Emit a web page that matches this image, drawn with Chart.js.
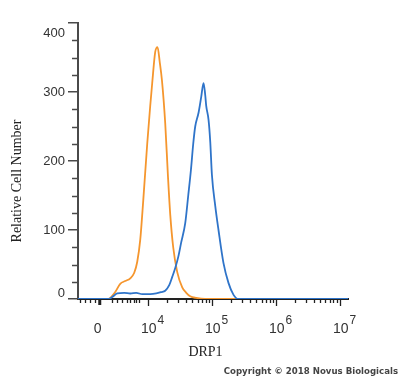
<!DOCTYPE html>
<html>
<head>
<meta charset="utf-8">
<script src="https://cdn.jsdelivr.net/npm/chart.js@4.4.1/dist/chart.umd.min.js"></script>
<style>
  html, body { margin: 0; padding: 0; background: #fff; }
</style>
</head>
<body>
<canvas id="myChart" width="400" height="378"></canvas>
<script>
// positions are on the display scale, in decades (4 = 10^4, 5 = 10^5 ...)
const bluePos = [2.91, 3.383, 3.445, 3.523, 3.633, 3.727, 3.820, 3.914, 4.039, 4.133, 4.211, 4.273,
  4.336, 4.383, 4.430, 4.477, 4.523, 4.586, 4.633, 4.675, 4.711, 4.742, 4.794, 4.836, 4.872,
  4.898, 4.914, 4.950, 4.977, 5.003, 5.055, 5.106, 5.184, 5.263, 5.341, 5.414, 7.13];
const blueCount = [0, 0, 3, 8, 9, 8, 9, 7, 7, 8, 10, 12,
  20, 32, 45, 61, 82, 110, 150, 187, 225, 250, 270, 293, 313,
  296, 280, 260, 228, 180, 135, 100, 52, 23, 6, 0, 0];

const orangePos = [2.91, 3.383, 3.430, 3.492, 3.570, 3.648, 3.727, 3.789, 3.836, 3.883, 3.930,
  3.992, 4.039, 4.070, 4.117, 4.153, 4.188, 4.222, 4.273, 4.316, 4.352, 4.398, 4.461, 4.539,
  4.602, 4.664, 4.758, 4.898, 7.13];
const orangeCount = [0, 0, 3, 10, 22, 26, 30, 38, 54, 86, 143,
  225, 280, 313, 358, 365, 343, 317, 255, 178, 122, 75, 39, 17,
  9, 4, 1.5, 0, 0];

const zeroPos = 3.25;
const decadeTicks = [4, 5, 6, 7];
const yTickLabels = [0, 100, 200, 300, 400];

const axisColor = "#4a4a4a";
const textColor = "#333";

function toPoints(xs, ys) {
  return xs.map((x, i) => ({ x: x, y: ys[i] }));
}

// minor ticks on the x axis: a few linear ones round zero, log ones after
function xMinorTicks() {
  let out = [2.94, 3.02, 3.10, 3.18, 3.44, 3.52, 3.60, 3.67, 3.73, 3.78, 3.82, 3.86];
  for (let d = 4; d <= 6; d++) {
    for (let k = 2; k <= 9; k++) out.push(d + Math.log10(k));
  }
  return out;
}

const axisDecor = {
  id: "axisDecor",
  afterDraw(chart) {
    const ctx = chart.ctx;
    const xs = chart.scales.x;
    const ys = chart.scales.y;
    const left = chart.chartArea.left;
    const bottom = chart.chartArea.bottom;
    ctx.save();

    // y minor ticks
    ctx.strokeStyle = axisColor;
    ctx.lineWidth = 1.5;
    for (let v = 25; v < 400; v += 25) {
      if (v % 100 === 0) continue;
      const y = Math.round(ys.getPixelForValue(v)) + 0.5;
      ctx.beginPath();
      ctx.moveTo(left - 6, y);
      ctx.lineTo(left, y);
      ctx.stroke();
    }

    // y labels
    ctx.fillStyle = textColor;
    ctx.font = "13px 'Liberation Sans', Arial, sans-serif";
    ctx.textAlign = "right";
    ctx.textBaseline = "middle";
    yTickLabels.forEach(v => {
      let y = ys.getPixelForValue(v);
      y = Math.min(Math.max(y, 33), 293);
      ctx.fillText(String(v), left - 13, y);
    });

    // x ticks
    ctx.strokeStyle = "#222";
    ctx.lineWidth = 1.3;
    xMinorTicks().forEach(t => {
      const x = Math.round(xs.getPixelForValue(t)) + 0.5;
      ctx.beginPath();
      ctx.moveTo(x, bottom);
      ctx.lineTo(x, bottom + 4);
      ctx.stroke();
    });
    decadeTicks.forEach(t => {
      const x = Math.round(xs.getPixelForValue(t)) + 0.5;
      ctx.beginPath();
      ctx.moveTo(x, bottom);
      ctx.lineTo(x, bottom + 7);
      ctx.stroke();
    });
    ctx.lineWidth = 3;
    const xz = xs.getPixelForValue(zeroPos);
    ctx.beginPath();
    ctx.moveTo(xz, bottom);
    ctx.lineTo(xz, bottom + 6);
    ctx.stroke();

    // x labels
    ctx.fillStyle = textColor;
    ctx.textBaseline = "alphabetic";
    ctx.textAlign = "center";
    ctx.font = "14px 'Liberation Sans', Arial, sans-serif";
    ctx.fillText("0", xz - 2, 333);
    decadeTicks.forEach(t => {
      const x = xs.getPixelForValue(t) + 1;
      ctx.font = "14px 'Liberation Sans', Arial, sans-serif";
      ctx.textAlign = "center";
      ctx.fillText("10", x, 333);
      const w = ctx.measureText("10").width;
      ctx.font = "12px 'Liberation Sans', Arial, sans-serif";
      ctx.textAlign = "left";
      ctx.fillText(String(t), x + w / 2 + 1, 324);
    });

    // axis titles
    ctx.font = "14px 'Liberation Serif', 'Times New Roman', serif";
    ctx.textAlign = "center";
    ctx.textBaseline = "middle";
    ctx.fillStyle = "#222";
    ctx.fillText("DRP1", 205.5, 352);
    ctx.save();
    ctx.translate(17.5, 181);
    ctx.rotate(-Math.PI / 2);
    ctx.fillText("Relative Cell Number", 0, 0);
    ctx.restore();

    // copyright line
    ctx.font = "bold 8.6px 'DejaVu Sans', Verdana, sans-serif";
    ctx.textAlign = "right";
    ctx.fillStyle = "#444";
    ctx.fillText("Copyright \u00A9 2018 Novus Biologicals", 398, 372);

    ctx.restore();
  }
};

const ctx = document.getElementById("myChart").getContext("2d");
const myChart = new Chart(ctx, {
  type: "line",
  data: {
    datasets: [
      {
        label: "DRP1",
        data: toPoints(bluePos, blueCount),
        borderColor: "#2f74c9",
        borderWidth: 1.8,
        pointRadius: 0,
        cubicInterpolationMode: "monotone",
        fill: false
      },
      {
        label: "Control",
        data: toPoints(orangePos, orangeCount),
        borderColor: "#f5962e",
        borderWidth: 1.8,
        pointRadius: 0,
        cubicInterpolationMode: "monotone",
        fill: false
      }
    ]
  },
  options: {
    responsive: false,
    animation: false,
    devicePixelRatio: 1,
    layout: { padding: { top: 23, right: 52, left: 0, bottom: 0 } },
    plugins: {
      legend: { display: false },
      tooltip: { enabled: false }
    },
    scales: {
      x: {
        type: "linear",
        min: 2.91,
        max: 7.13,
        afterFit: s => { s.height = 79; },
        border: { display: true, color: "#222", width: 2 },
        grid: { drawOnChartArea: false, drawTicks: false },
        ticks: { display: false }
      },
      y: {
        min: 0,
        max: 400,
        afterFit: s => { s.width = 78; },
        border: { display: true, color: axisColor, width: 2 },
        grid: { drawOnChartArea: false, drawTicks: true, tickLength: 10, color: axisColor, lineWidth: 1.5 },
        ticks: { display: false, stepSize: 100 }
      }
    }
  },
  plugins: [axisDecor]
});
</script>
</body>
</html>
